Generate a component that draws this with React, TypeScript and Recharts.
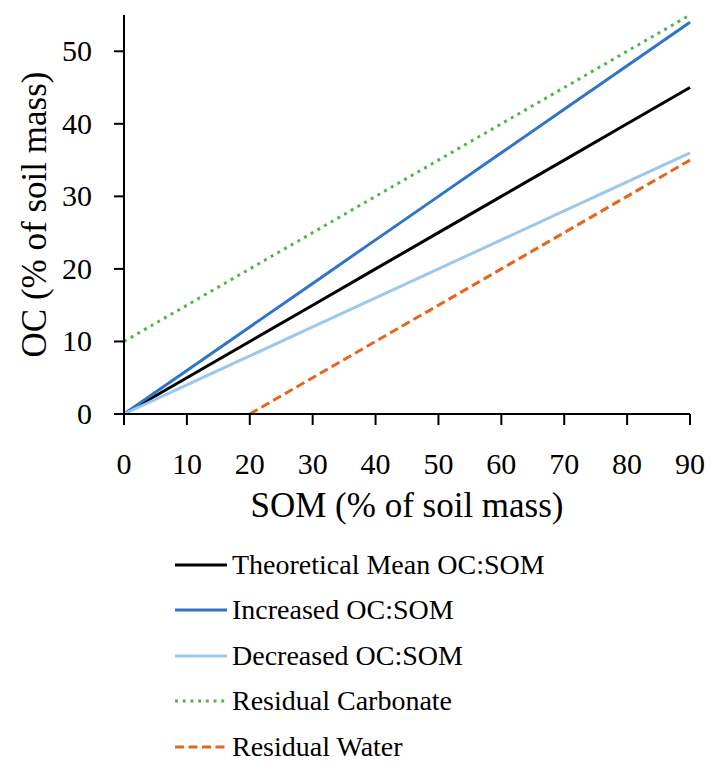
import React from 'react';
import { LineChart, Line, XAxis, YAxis, Legend, Label } from 'recharts';

const som = [0, 10, 20, 30, 40, 50, 60, 70, 80, 90];
const theoretical = [0, 5, 10, 15, 20, 25, 30, 35, 40, 45];
const increased = [0, 6, 12, 18, 24, 30, 36, 42, 48, 54];
const decreased = [0, 4, 8, 12, 16, 20, 24, 28, 32, 36];
const carbonate = [10, 15, 20, 25, 30, 35, 40, 45, 50, 55];
const water = [null, null, 0, 5, 10, 15, 20, 25, 30, 35];

const xTicks = [0, 10, 20, 30, 40, 50, 60, 70, 80, 90];
const yTicks = [0, 10, 20, 30, 40, 50];

const SERIES = [
    { key: 'theoretical', name: 'Theoretical Mean OC:SOM', color: '#000000', dash: undefined },
    { key: 'increased', name: 'Increased OC:SOM', color: '#2E75C9', dash: undefined },
    { key: 'decreased', name: 'Decreased OC:SOM', color: '#9CC8EC', dash: undefined },
    { key: 'carbonate', name: 'Residual Carbonate', color: '#4DB848', dash: '3 4.7' },
    { key: 'water', name: 'Residual Water', color: '#E8651C', dash: '9 4.5' },
];

const FONT = "'Liberation Serif', 'Times New Roman', serif";

const chartData = som.map((x, i) => ({
    som: x,
    theoretical: theoretical[i],
    increased: increased[i],
    decreased: decreased[i],
    carbonate: carbonate[i],
    water: water[i],
}));

// tick renderers, so the serif font and size stick
const XTick = (props: any) => {
    const { x, y, payload } = props;
    return (
        <text x={x} y={y + 21} textAnchor="middle" fontSize={30} fontFamily={FONT} fill="#000">
            {payload.value}
        </text>
    );
};

const YTick = (props: any) => {
    const { x, y, payload } = props;
    return (
        <text x={x} y={y + 10} textAnchor="end" fontSize={30} fontFamily={FONT} fill="#000">
            {payload.value}
        </text>
    );
};

const YTitle = (props: any) => {
    const { viewBox } = props;
    const x = viewBox.x + 26;
    const y = viewBox.y + viewBox.height / 2;
    return (
        <text x={x} y={y} transform={`rotate(-90 ${x} ${y})`} textAnchor="middle" dominantBaseline="central"
            fontSize={35} fontFamily={FONT} fill="#000">
            OC (% of soil mass)
        </text>
    );
};

const XTitle = (props: any) => {
    const { viewBox } = props;
    return (
        <text x={viewBox.x + viewBox.width / 2} y={viewBox.y + 103} textAnchor="middle"
            fontSize={35} fontFamily={FONT} fill="#000">
            SOM (% of soil mass)
        </text>
    );
};

// legend drawn as a vertical list under the axis title
const LegendList = () => (
    <div style={{ height: 241, fontFamily: FONT }}>
        {SERIES.map(s => (
            <div key={s.key} style={{ height: 45.5, display: 'flex', alignItems: 'center' }}>
                <svg width={55} height={10} style={{ marginRight: 2 }}>
                    <line x1={0} y1={5} x2={52} y2={5} stroke={s.color} strokeWidth={3} strokeDasharray={s.dash} />
                </svg>
                <span style={{ fontSize: 28, color: '#000', lineHeight: '28px' }}>{s.name}</span>
            </div>
        ))}
    </div>
);

const App: React.FC = () => {
    return (
        <div style={{ width: 706, height: 757, fontFamily: FONT }}>
            <LineChart width={706} height={757} data={chartData} margin={{ top: 7, right: 24, left: 0, bottom: 0 }}>
                <XAxis
                    dataKey="som"
                    type="number"
                    domain={[0, 90]}
                    ticks={xTicks}
                    height={110}
                    tickSize={11}
                    tickMargin={28}
                    axisLine={{ stroke: '#000', strokeWidth: 2 }}
                    tickLine={{ stroke: '#000', strokeWidth: 2 }}
                    tick={<XTick />}
                >
                    <Label content={XTitle} />
                </XAxis>
                <YAxis
                    type="number"
                    domain={[0, 55]}
                    ticks={yTicks}
                    width={116}
                    tickSize={10}
                    tickMargin={22}
                    axisLine={{ stroke: '#000', strokeWidth: 2 }}
                    tickLine={{ stroke: '#000', strokeWidth: 2 }}
                    tick={<YTick />}
                >
                    <Label content={YTitle} />
                </YAxis>
                <Legend
                    layout="horizontal"
                    verticalAlign="bottom"
                    align="left"
                    content={LegendList}
                    wrapperStyle={{ left: 167, top: 534, width: 500 }}
                />
                {SERIES.map(s => (
                    <Line
                        key={s.key}
                        type="linear"
                        dataKey={s.key}
                        name={s.name}
                        stroke={s.color}
                        strokeWidth={3}
                        strokeDasharray={s.dash}
                        dot={false}
                        activeDot={false}
                        isAnimationActive={false}
                    />
                ))}
            </LineChart>
        </div>
    );
};

export default App;
